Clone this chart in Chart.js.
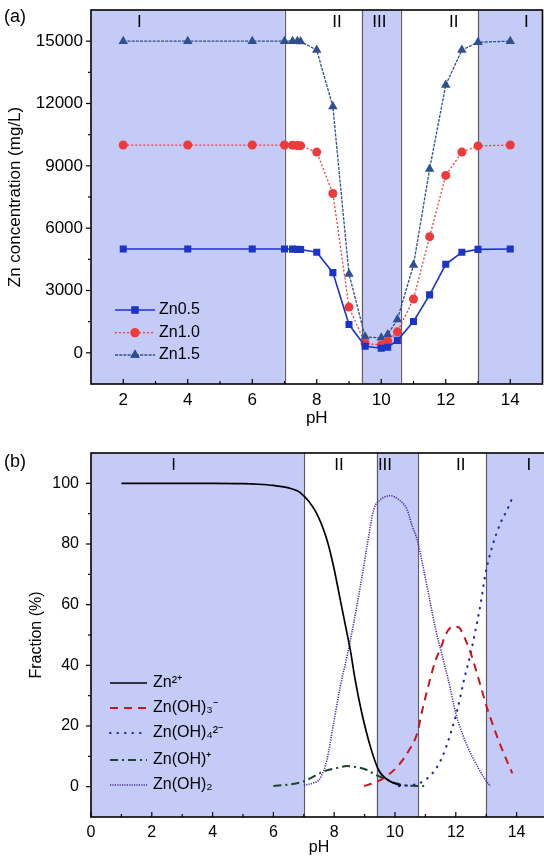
<!DOCTYPE html>
<html>
<head>
<meta charset="utf-8">
<script src="https://cdn.jsdelivr.net/npm/chart.js@4.4.1/dist/chart.umd.min.js"></script>
<style>
  html, body { margin: 0; padding: 0; background: #fff; overflow: hidden; width: 544px; height: 868px; }
  canvas { position: absolute; left: 0; }
  #chartA { top: 0; }
  #chartB { top: 435px; }
</style>
</head>
<body>
<canvas id="chartA" width="548" height="435"></canvas>
<canvas id="chartB" width="550" height="433"></canvas>
<script>
// ---- (a) Zn concentration vs pH ----
const phA = [2, 4, 6, 7, 7.25, 7.4, 7.5, 8, 8.5, 9, 9.5, 10, 10.2, 10.5, 11, 11.5, 12, 12.5, 13, 14];
const zn05 = [5000, 5000, 5000, 5000, 4990, 4980, 4970, 4840, 3860, 1360, 320, 220, 270, 600, 1510, 2790, 4260, 4840, 4980, 5000];
const zn10 = [10000, 10000, 10000, 10000, 9990, 9980, 9970, 9660, 7670, 2200, 450, 380, 560, 1010, 2590, 5590, 8540, 9660, 9960, 10000];
const zn15 = [15000, 15000, 15000, 15000, 15000, 14990, 14980, 14570, 11850, 3800, 770, 720, 880, 1600, 4230, 8850, 12890, 14570, 14950, 15000];
const seriesNamesA = ['Zn0.5', 'Zn1.0', 'Zn1.5'];
const xTicksA = [2, 4, 6, 8, 10, 12, 14];
const yTicksA = [0, 3000, 6000, 9000, 12000, 15000];
const regionEdgesA = [1, 7, 9.4, 10.6, 13, 15];
const regionNamesA = ['I', 'II', 'III', 'II', 'I'];
const regionLabelXA = [2.5, 8.63, 9.94, 12.25, 14.5];

// ---- (b) species fraction vs pH ----
const zn2PH = [1, 2, 3, 4, 5, 5.5, 6, 6.5, 6.9, 7.4, 7.76, 7.98, 8.2, 8.42, 8.53, 8.69, 8.91, 9.19, 9.46, 9.85, 10.2];
const zn2Frac = [100, 100, 100, 100, 99.9, 99.7, 99.3, 98.5, 96.8, 90.5, 81.4, 72.6, 61.6, 50.6, 45.1, 35.2, 24.2, 13.2, 5.5, 1.7, 0.4];
const oh3PH = [8.98, 9.3, 9.63, 10.13, 10.46, 10.73, 10.9, 11.12, 11.34, 11.5, 11.67, 11.9, 12.1, 12.27, 12.49, 12.76, 12.98, 13.2, 13.53, 13.86];
const oh3Frac = [0.2, 1.2, 2.8, 7.2, 12, 17.6, 25.3, 34.1, 41.8, 45.5, 50.2, 52.8, 52.5, 49.5, 44, 35.2, 27.5, 20.9, 12.1, 4.4];
const oh4PH = [10.13, 10.79, 11.23, 11.56, 11.83, 12.05, 12.27, 12.49, 12.65, 12.82, 12.98, 13.2, 13.47, 13.69, 13.88];
const oh4Frac = [0.2, 1.1, 4.4, 9.9, 17.6, 25.3, 35.2, 44, 51.7, 60.5, 70.4, 79.2, 86.9, 91.3, 95.7];
const ohpPH = [6.0, 6.5, 6.99, 7.65, 8.16, 8.42, 8.7, 9.08, 9.36, 9.63, 10.0, 10.35, 10.96];
const ohpFrac = [0.2, 0.7, 1.7, 5.0, 6.3, 6.8, 6.5, 5.5, 3.9, 2.8, 1.2, 0.4, 0.2];
const oh2PH = [7.0, 7.3, 7.54, 7.76, 7.98, 8.2, 8.42, 8.64, 8.86, 9.08, 9.3, 9.52, 9.85, 10.13, 10.39, 10.57, 10.73, 10.9, 11.12, 11.34, 11.56, 11.78, 12.0, 12.21, 12.54, 12.98, 13.14];
const oh2Frac = [0.5, 1.2, 2.8, 8.8, 20.9, 33, 42.9, 53.9, 66, 79.2, 91.3, 94.6, 95.9, 94.6, 91.5, 85.8, 81.4, 73.7, 62.7, 51.7, 42.9, 34.1, 24.2, 17.6, 9.9, 2.2, 0.2];
const speciesNames = ['Zn²⁺', 'Zn(OH)₃⁻', 'Zn(OH)₄²⁻', 'Zn(OH)⁺', 'Zn(OH)₂'];
const xTicksB = [0, 2, 4, 6, 8, 10, 12, 14];
const yTicksB = [0, 20, 40, 60, 80, 100];
const regionEdgesB = [0, 7, 9.4, 10.75, 13, 15];
const regionNamesB = ['I', 'II', 'III', 'II', 'I'];
const regionLabelXB = [2.72, 8.16, 9.67, 12.16, 14.4];

const FONT = "'Liberation Sans', Arial, sans-serif";
const SHADE = '#c5cbf7';
Chart.defaults.font.family = FONT;
Chart.defaults.color = '#000';

const pts = (xs, ys) => xs.map((x, i) => ({ x, y: ys[i] }));

// ---- shaded regions, border, ticks, labels, legend ----
const decorPlugin = {
  id: 'decor',
  beforeDatasetsDraw(chart, args, o) {
    const { ctx, chartArea: a, scales: { x } } = chart;
    ctx.save();
    for (let i = 0; i < o.edges.length - 1; i++) {
      if (i % 2 === 0) {
        const x0 = x.getPixelForValue(o.edges[i]);
        const x1 = x.getPixelForValue(o.edges[i + 1]);
        ctx.fillStyle = SHADE;
        ctx.fillRect(x0, a.top, x1 - x0, a.bottom - a.top);
      }
    }
    ctx.strokeStyle = '#5c5c68';
    ctx.lineWidth = 1.2;
    for (let i = 1; i < o.edges.length - 1; i++) {
      const px = Math.round(x.getPixelForValue(o.edges[i])) + 0.5;
      ctx.beginPath();
      ctx.moveTo(px, a.top);
      ctx.lineTo(px, a.bottom);
      ctx.stroke();
    }
    ctx.fillStyle = '#000';
    ctx.font = o.regionFont + 'px ' + FONT;
    ctx.textAlign = 'center';
    ctx.textBaseline = 'middle';
    o.names.forEach((n, i) => {
      ctx.fillText(n, x.getPixelForValue(o.labelX[i]), a.top + o.labelDy);
    });
    ctx.restore();
  },
  afterDraw(chart, args, o) {
    const { ctx, chartArea: a, scales: { x, y } } = chart;
    ctx.save();
    // frame
    ctx.strokeStyle = '#000';
    ctx.lineWidth = 1.6;
    ctx.strokeRect(a.left, a.top, a.right - a.left, a.bottom - a.top);
    // ticks: x inward, y outward
    ctx.lineWidth = 1.2;
    const xt = o.xTicks, yt = o.yTicks;
    const tick = (x0, y0, x1, y1) => { ctx.beginPath(); ctx.moveTo(x0, y0); ctx.lineTo(x1, y1); ctx.stroke(); };
    xt.forEach((v, i) => {
      const px = x.getPixelForValue(v);
      tick(px, a.bottom, px, a.bottom - 5);
      if (i < xt.length - 1) {
        const pm = x.getPixelForValue((v + xt[i + 1]) / 2);
        tick(pm, a.bottom, pm, a.bottom - 3);
      }
    });
    yt.forEach((v, i) => {
      const py = y.getPixelForValue(v);
      tick(a.left, py, a.left - 5, py);
      if (i < yt.length - 1) {
        const pm = y.getPixelForValue((v + yt[i + 1]) / 2);
        tick(a.left, pm, a.left - 3, pm);
      }
    });
    // panel label
    ctx.fillStyle = '#000';
    ctx.font = '18px ' + FONT;
    ctx.textAlign = 'left';
    ctx.textBaseline = 'middle';
    ctx.fillText(o.panel, 4, o.panelY);
    // legend
    const L = o.legend;
    chart.data.datasets.forEach((ds, i) => {
      const ly = L.rows[i];
      ctx.strokeStyle = ds.borderColor;
      ctx.lineWidth = ds.borderWidth;
      ctx.lineCap = ds.borderCapStyle || 'butt';
      ctx.setLineDash(ds.borderDash || []);
      tick(L.x0, ly, L.x1, ly);
      ctx.setLineDash([]);
      ctx.lineCap = 'butt';
      if (ds.pointRadius > 0) {
        ctx.fillStyle = ds.backgroundColor;
        Chart.helpers.drawPoint(ctx, { pointStyle: ds.pointStyle, radius: ds.pointRadius, rotation: 0, borderWidth: 0 }, (L.x0 + L.x1) / 2, ly);
        ctx.fill();
      }
      ctx.fillStyle = '#000';
      ctx.font = L.font + 'px ' + FONT;
      ctx.fillText(ds.label, L.tx, ly);
    });
    ctx.restore();
  }
};

function axisOpts(ticksArr, min, max, fontSize, pad, title, titlePad, fixed, isX) {
  return {
    type: 'linear',
    min, max,
    grid: { display: false, drawTicks: false },
    border: { display: false },
    afterBuildTicks: s => { s.ticks = ticksArr.map(v => ({ value: v })); },
    afterFit: s => {
      if (isX) { s.height = fixed; s.paddingLeft = 0; s.paddingRight = 0; }
      else { s.width = fixed; s.paddingTop = 0; s.paddingBottom = 0; }
    },
    ticks: { font: { size: fontSize }, padding: pad, color: '#000', maxRotation: 0, callback: v => String(v) },
    title: { display: true, text: title, font: { size: fontSize }, padding: titlePad, color: '#000' }
  };
}

// ---- chart (a) ----
new Chart(document.getElementById('chartA'), {
  type: 'line',
  data: {
    datasets: [
      { label: seriesNamesA[0], data: pts(phA, zn05), borderColor: '#1a35c8', backgroundColor: '#1a35c8',
        borderWidth: 1.6, pointStyle: 'rect', pointRadius: 5, pointBorderWidth: 0 },
      { label: seriesNamesA[1], data: pts(phA, zn10), borderColor: '#ee3a3a', backgroundColor: '#ee3a3a',
        borderWidth: 1.3, borderDash: [2, 2], pointStyle: 'circle', pointRadius: 4.5, pointBorderWidth: 0 },
      { label: seriesNamesA[2], data: pts(phA, zn15), borderColor: '#2f4f8f', backgroundColor: '#2f4f8f',
        borderWidth: 1.3, borderDash: [3, 1.2], pointStyle: 'triangle', pointRadius: 5.5, pointBorderWidth: 0 }
    ]
  },
  options: {
    responsive: false,
    animation: false,
    layout: { padding: { left: 0, top: 10, right: 3, bottom: 0 } },
    plugins: {
      legend: { display: false },
      tooltip: { enabled: false },
      decor: {
        edges: regionEdgesA, names: regionNamesA, labelX: regionLabelXA, regionFont: 17, labelDy: 12,
        xTicks: xTicksA, yTicks: yTicksA, panel: '(a)', panelY: 17,
        legend: { x0: 115, x1: 155, tx: 159, rows: [310, 332.7, 355], font: 16 }
      }
    },
    scales: {
      x: axisOpts(xTicksA, 1, 15, 17, 6, 'pH', { top: 0, bottom: 6 }, 51, true),
      y: axisOpts(yTicksA, -1500, 16500, 17, 8, 'Zn concentration (mg/L)', { top: 5, bottom: 0 }, 91, false)
    }
  },
  plugins: [decorPlugin]
});

// ---- chart (b) ----
new Chart(document.getElementById('chartB'), {
  type: 'line',
  data: {
    datasets: [
      { label: speciesNames[0], data: pts(zn2PH, zn2Frac), borderColor: '#000', backgroundColor: '#000', borderWidth: 1.7 },
      { label: speciesNames[1], data: pts(oh3PH, oh3Frac), borderColor: '#c8161c', backgroundColor: '#c8161c', borderWidth: 2, borderDash: [8, 6] },
      { label: speciesNames[2], data: pts(oh4PH, oh4Frac), borderColor: '#1f2aa6', backgroundColor: '#1f2aa6', borderWidth: 2.2, borderDash: [0.5, 7], borderCapStyle: 'round' },
      { label: speciesNames[3], data: pts(ohpPH, ohpFrac), borderColor: '#17462a', backgroundColor: '#17462a', borderWidth: 2, borderDash: [8, 4, 2, 4] },
      { label: speciesNames[4], data: pts(oh2PH, oh2Frac), borderColor: '#4a2aa8', backgroundColor: '#4a2aa8', borderWidth: 1.6, borderDash: [1.2, 1.2] }
    ].map(d => Object.assign(d, { pointRadius: 0, cubicInterpolationMode: 'monotone' }))
  },
  options: {
    responsive: false,
    animation: false,
    layout: { padding: { left: 0, top: 18, right: 3, bottom: 0 } },
    plugins: {
      legend: { display: false },
      tooltip: { enabled: false },
      decor: {
        edges: regionEdgesB, names: regionNamesB, labelX: regionLabelXB, regionFont: 17, labelDy: 12,
        xTicks: xTicksB, yTicks: yTicksB, panel: '(b)', panelY: 27,
        legend: { x0: 110, x1: 147, tx: 153, rows: [248, 273, 298, 325, 350], font: 16 }
      }
    },
    scales: {
      x: axisOpts(xTicksB, 0, 15, 16, 6, 'pH', { top: 0, bottom: 11 }, 51, true),
      y: axisOpts(yTicksB, -10, 110, 16, 12, 'Fraction (%)', { top: 27, bottom: 0 }, 91, false)
    }
  },
  plugins: [decorPlugin]
});
</script>
</body>
</html>
